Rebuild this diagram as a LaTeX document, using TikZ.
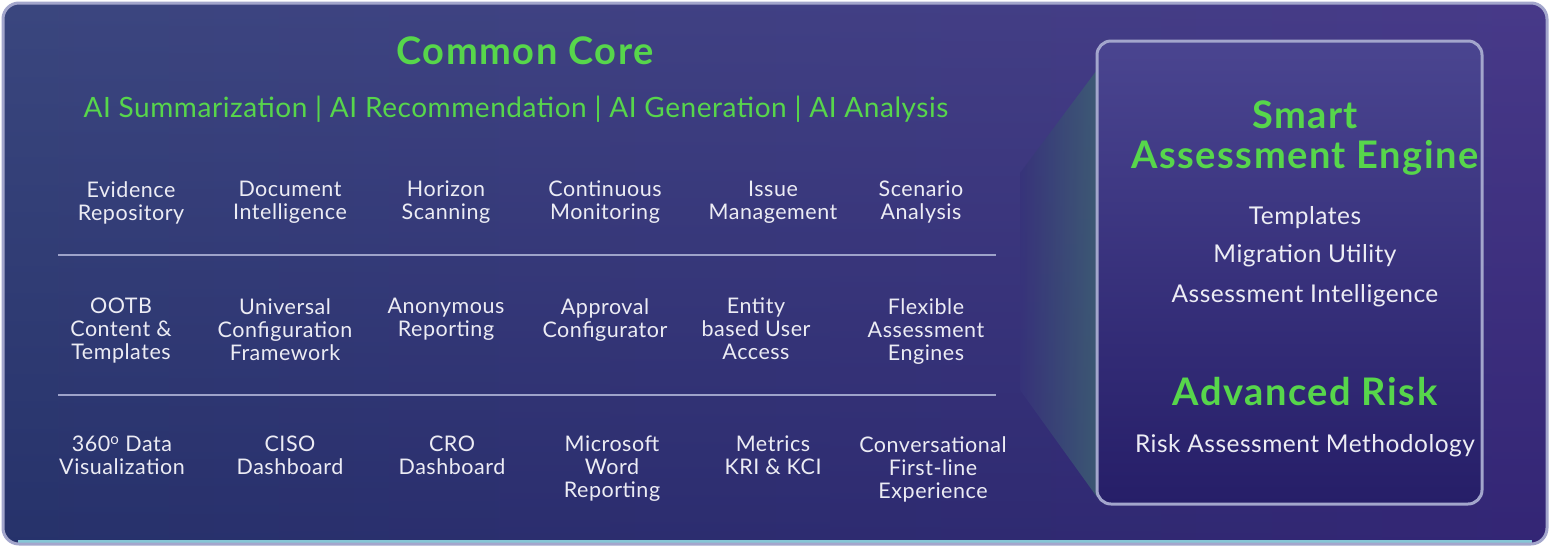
\documentclass[tikz,border=0pt]{standalone}
\usepackage{fontspec}
\setmainfont{Lato}
\newfontfamily\cellfont[LetterSpace=2.5]{Lato}
\newfontfamily\tagfont[LetterSpace=2]{Lato}
\newfontfamily\titlefont[LetterSpace=4]{Lato}
\definecolor{bgleft}{HTML}{2A3774}
\definecolor{bgright}{HTML}{38297F}
\definecolor{bgbeam}{HTML}{37337A}
\definecolor{beamlit}{HTML}{3D5F72}
\definecolor{innertop}{HTML}{4A4590}
\definecolor{innerbot}{HTML}{261E68}
\definecolor{rim}{HTML}{A3A6CC}
\definecolor{glow}{HTML}{86C6D6}
\definecolor{leaf}{HTML}{57D64B}
\definecolor{paper}{HTML}{ECECF4}
\definecolor{rule}{HTML}{9EA3CA}
\begin{document}
\begin{tikzpicture}[x=1pt,y=-1pt]
\tikzset{cell/.style={text=paper, align=center, inner sep=0pt, anchor=north,
    font=\cellfont\fontsize{21.5}{23}\selectfont},
  title/.style={text=leaf, inner sep=0pt, anchor=base, font=\titlefont\fontsize{38}{40}\selectfont\bfseries},
  tagline/.style={text=leaf, inner sep=0pt, anchor=base, font=\tagfont\fontsize{28}{30}\selectfont},
  feature/.style={text=paper, inner sep=0pt, anchor=base, font=\tagfont\fontsize{24.5}{28}\selectfont}}
\useasboundingbox (0,0) rectangle (1550,547);
\fill[white] (0,0) rectangle (1550,547);
% outer panel
\shade[rounded corners=16, left color=bgleft, right color=bgright] (3,3) rectangle (1547,544);
\shade[rounded corners=16, top color=white, bottom color=black, opacity=0.08] (3,3) rectangle (1547,544);
\draw[glow, line width=5] (18,542) -- (1532,542);
\draw[rounded corners=16, rim, line width=3] (3,3) rectangle (1547,544);
% light beam towards the right panel
\shade[left color=bgbeam, right color=beamlit, opacity=0.85] (1020,173) -- (1097,70) -- (1097,497) -- (1020,390) -- cycle;
% right panel
\shade[rounded corners=14, top color=innertop, bottom color=innerbot] (1097,41) rectangle (1482,504);
\draw[rounded corners=14, rim, line width=3] (1097,41) rectangle (1482,504);
% headings
\node[title] (core) at (525,64) {Common Core};
\node[tagline] (ai) at (516,117) {AI Summarization | AI Recommendation | AI Generation | AI Analysis};
% row 1
\node[cell] (ev) at (131,181) {Evidence\\Repository};
\node[cell] (doc) at (290,181) {Document\\Intelligence};
\node[cell] (hor) at (446,181) {Horizon\\Scanning};
\node[cell] (mon) at (605,181) {Continuous\\Monitoring};
\node[cell] (iss) at (773,181) {Issue\\Management};
\node[cell] (sce) at (921,181) {Scenario\\Analysis};
\draw[rule, line width=2] (58,255) -- (996,255);
% row 2
\node[cell] (ootb) at (121,298) {OOTB\\Content \&\\Templates};
\node[cell] (ucf) at (285,298) {Universal\\Configuration\\Framework};
\node[cell] (anon) at (446,298) {Anonymous\\Reporting};
\node[cell] (appr) at (605,298) {Approval\\Configurator};
\node[cell] (ent) at (756,298) {Entity\\based User\\Access};
\node[cell] (flex) at (926,298) {Flexible\\Assessment\\Engines};
\draw[rule, line width=2] (58,395) -- (996,395);
% row 3
\node[cell] (viz) at (122,436) {360\textsuperscript{o} Data\\Visualization};
\node[cell] (ciso) at (290,436) {CISO\\Dashboard};
\node[cell] (cro) at (452,436) {CRO\\Dashboard};
\node[cell] (word) at (612,436) {Microsoft\\Word\\Reporting};
\node[cell] (kri) at (773,436) {Metrics\\KRI \& KCI};
\node[cell] (conv) at (933,436) {Conversational\\First-line\\Experience};
% right panel text
\node[title] (smart) at (1305,128) {Smart};
\node[title] (engine) at (1305,168) {Assessment Engine};
\node[feature] (tpl) at (1305,224) {Templates};
\node[feature] (mig) at (1305,262) {Migration Utility};
\node[feature] (intel) at (1305,302) {Assessment Intelligence};
\node[title] (risk) at (1305,405) {Advanced Risk};
\node[feature] (meth) at (1305,452) {Risk Assessment Methodology};
\end{tikzpicture}
\end{document}
